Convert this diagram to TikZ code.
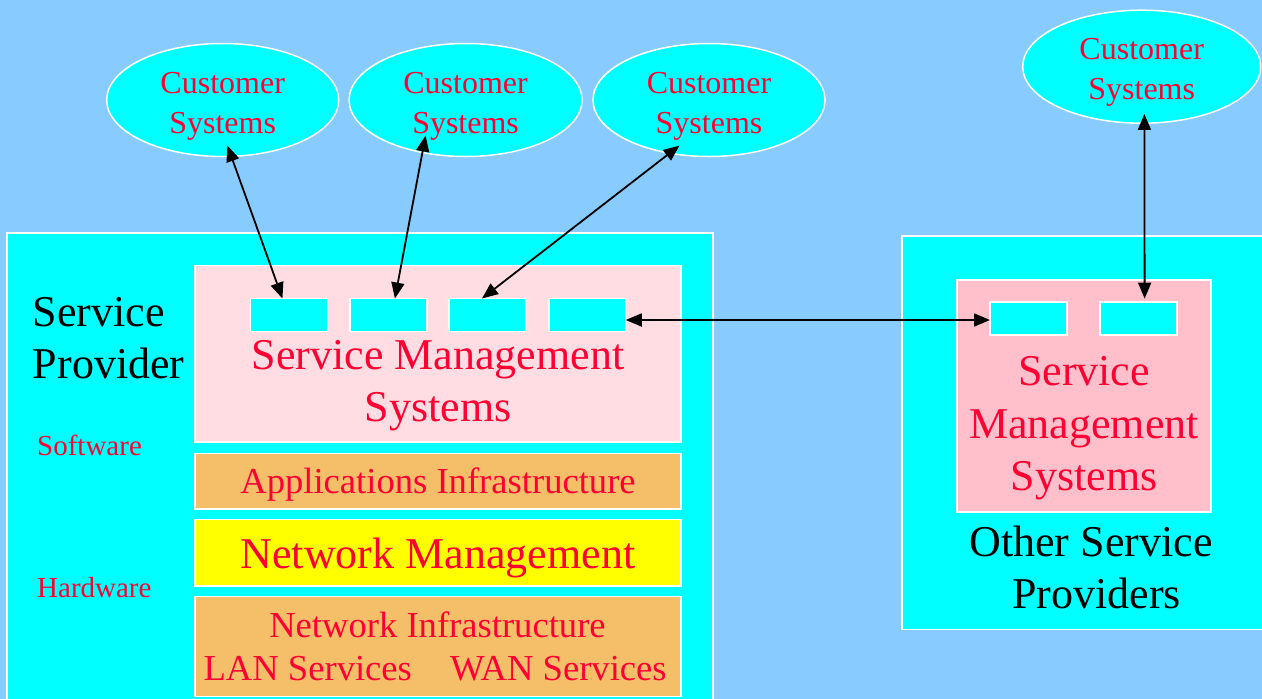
\documentclass[tikz,border=0pt]{standalone}
\usepackage{fontspec}
\setmainfont{Liberation Serif}
\usetikzlibrary{arrows.meta,calc,shapes.geometric}
\definecolor{bgblue}{RGB}{136,204,255}
\definecolor{cyanc}{RGB}{0,255,255}
\definecolor{lpink}{RGB}{255,221,226}
\definecolor{dpink}{RGB}{255,192,203}
\definecolor{orangec}{RGB}{245,191,106}
\definecolor{yellowc}{RGB}{255,255,0}
\definecolor{redtext}{RGB}{255,0,51}
\newcommand\custtext{\rule{0pt}{33pt}Customer\\Systems}
\tikzset{
  panel/.style={rectangle, draw=white, line width=1.5pt, inner sep=0pt, outer sep=0pt},
  port/.style={panel, fill=cyanc, minimum width=77pt, minimum height=33pt},
  cust/.style={ellipse, draw=white, line width=1.5pt, fill=cyanc, inner sep=0pt,
    minimum width=232pt, minimum height=110pt, text=redtext, align=center,
    font=\fontsize{32}{40}\selectfont},
  big/.style={inner sep=0pt, font=\fontsize{44}{52}\selectfont},
  mid/.style={inner sep=0pt, font=\fontsize{36.6}{44}\selectfont},
  small/.style={inner sep=0pt, font=\fontsize{29}{34}\selectfont},
  conn/.style={line width=1.8pt, {Triangle[length=16pt,width=13pt]}-{Triangle[length=16pt,width=13pt]}}
}
\begin{document}
\begin{tikzpicture}[x=1pt,y=-1pt]
\useasboundingbox (0,0) rectangle (1262,699);
\clip (0,0) rectangle (1262,699);
\fill[bgblue] (0,0) rectangle (1262,699);

% left provider
\node[panel, fill=cyanc, minimum width=706pt, minimum height=477pt] (sp) at (360,471.5) {};
\node[panel, fill=lpink, minimum width=486pt, minimum height=176.5pt] (sms) at (438,353.75) {};
\node[port] (b1) at (288.75,315) {};
\node[port] (b2) at (388.5,315) {};
\node[port] (b3) at (487.5,315) {};
\node[port] (b4) at (587.25,315) {};
\node[panel, fill=orangec, minimum width=486pt, minimum height=55.5pt] (app) at (438,481.25) {};
\node[panel, fill=yellowc, minimum width=486pt, minimum height=66.5pt] (nm) at (438,552.75) {};
\node[panel, fill=orangec, minimum width=486pt, minimum height=100pt] (ni) at (438,646.5) {};

\node[big, anchor=base west] (t1) at (32.7,326) {Service};
\node[big, anchor=base west] (t2) at (32.7,378.3) {Provider};
\node[big, anchor=base, text=redtext] (t3) at (438,369) {Service Management};
\node[big, anchor=base, text=redtext] (t4) at (438,421) {Systems};
\node[small, anchor=base west, text=redtext] (sw) at (37,455) {Software};
\node[small, anchor=base west, text=redtext] (hw) at (37,597.7) {Hardware};
\node[mid, anchor=base, text=redtext] (t5) at (438,493.3) {Applications Infrastructure};
\node[big, anchor=base, text=redtext] (t6) at (438,568.3) {Network Management};
\node[mid, anchor=base, text=redtext] (t7) at (437.5,637.3) {Network Infrastructure};
\node[mid, anchor=base west, text=redtext] (t8) at (203.4,680.7) {LAN Services};
\node[mid, anchor=base west, text=redtext] (t9) at (450,680.7) {WAN Services};

% right provider
\node[panel, fill=cyanc, minimum width=373pt, minimum height=393.5pt] (osp) at (1088.5,432.75) {};
\node[panel, fill=dpink, minimum width=254pt, minimum height=232pt] (rsms) at (1084,396) {};
\node[port] (r1) at (1028.5,318.5) {};
\node[port] (r2) at (1138.65,318.5) {};
\node[big, anchor=base, text=redtext] (u1) at (1084,385) {Service};
\node[big, anchor=base, text=redtext] (u2) at (1084,438) {Management};
\node[big, anchor=base, text=redtext] (u3) at (1084,490) {Systems};
\node[big, anchor=base] (u4) at (1091,556.7) {Other Service};
\node[big, anchor=base] (u5) at (1096.7,608) {Providers};

% customers
\node[cust] (e1) at (222.7,100) {\custtext};
\node[cust, minimum width=233pt] (e2) at (465.6,100) {\custtext};
\node[cust] (e3) at (709,100) {\custtext};
\node[cust, minimum width=238pt] (e4) at (1141.7,66.7) {\custtext};

% connectors
\draw[conn] ($(e1.south)+(4.7,-11.7)$) -- ($(b1.north)+(-6.3,0)$);
\draw[conn] ($(e2.south)+(-40,-21.7)$) -- ($(b2.north)+(6.4,0)$);
\draw[conn] ($(e3.south)+(-29.5,-11.7)$) -- ($(b3.north)+(-5.5,0)$);
\draw[conn] ($(b4.east)+(0,5)$) -- ($(r1.west)+(0,1.5)$);
\draw[conn] ($(e4.south)+(2.7,-10)$) -- ($(r2.north)+(6,-3.4)$);
\end{tikzpicture}
\end{document}
